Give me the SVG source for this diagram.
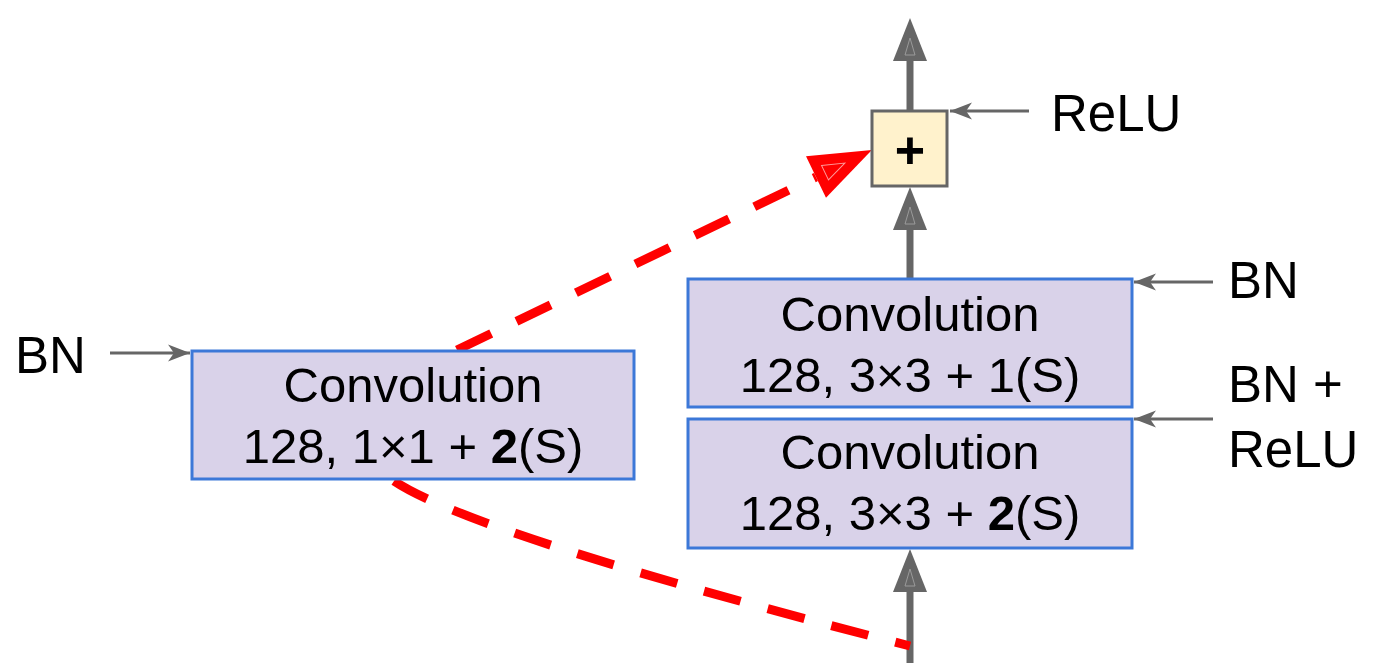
<svg xmlns="http://www.w3.org/2000/svg" width="1383" height="663" viewBox="0 0 1383 663">
  <style>
    .conv { fill: #d9d2e9; stroke: #3c78d8; stroke-width: 3; }
    .add { fill: #fff2cc; stroke: #666666; stroke-width: 3; }
    .t { font-family: "Liberation Sans", Arial, sans-serif; fill: #000000; }
    .ct { font-size: 49px; text-anchor: middle; }
    .lbl { font-size: 51px; }
    .thick { stroke: #666666; stroke-width: 7; fill: none; }
    .thin { stroke: #666666; stroke-width: 3; fill: none; }
    .red { stroke: #ff0000; stroke-width: 9; fill: none; stroke-dasharray: 38 28; }
  </style>
  <defs>
    <marker id="bigArrow" markerUnits="userSpaceOnUse" viewBox="0 -20 46 40" markerWidth="46" markerHeight="40" refX="0" refY="0" orient="auto" overflow="visible">
      <path d="M0,-17 L43,0 L0,17 Z" fill="#666666"/>
      <path d="M6,-5 L23,0 L6,5 Z" fill="none" stroke="#9a9a9a" stroke-width="1"/>
    </marker>
    <marker id="redArrow" markerUnits="userSpaceOnUse" viewBox="0 -25 64 50" markerWidth="64" markerHeight="50" refX="0" refY="0" orient="auto" overflow="visible">
      <path d="M0,-23 L62,0 L0,23 Z" fill="#ff0000"/>
      <path d="M10,-8 L32,0 L10,8 Z" fill="none" stroke="#ff9a9a" stroke-width="1"/>
    </marker>
    <marker id="thinArrow" markerUnits="userSpaceOnUse" viewBox="-24 -10 26 20" markerWidth="26" markerHeight="20" refX="0" refY="0" orient="auto" overflow="visible">
      <path d="M-22,-8.5 L0,0 L-22,8.5 L-16,0 Z" fill="#666666"/>
    </marker>
  </defs>

  <g id="connectors">
    <line class="thick" x1="910" y1="663" x2="910" y2="592" marker-end="url(#bigArrow)"/>
    <line class="thick" x1="910" y1="278" x2="910" y2="230" marker-end="url(#bigArrow)"/>
    <line class="thick" x1="910" y1="111" x2="910" y2="61" marker-end="url(#bigArrow)"/>
    <line class="red" x1="457" y1="350" x2="816" y2="177" marker-end="url(#redArrow)"/>
    <path class="red" d="M394,481 Q475,535 910,646"/>
    <line class="thin" x1="110" y1="353" x2="190" y2="353" marker-end="url(#thinArrow)"/>
    <line class="thin" x1="1213" y1="282" x2="1134" y2="282" marker-end="url(#thinArrow)"/>
    <line class="thin" x1="1213" y1="419" x2="1134" y2="419" marker-end="url(#thinArrow)"/>
    <line class="thin" x1="1029" y1="111" x2="950" y2="111" marker-end="url(#thinArrow)"/>
  </g>

  <g id="conv-shortcut">
    <rect class="conv" x="192" y="351" width="442" height="128"/>
    <text class="t ct" x="413" y="402">Convolution</text>
    <text class="t ct" x="413" y="463">128, 1×1 + <tspan font-weight="bold">2</tspan>(S)</text>
  </g>

  <g id="conv-1">
    <rect class="conv" x="688" y="419" width="444" height="129"/>
    <text class="t ct" x="910" y="469">Convolution</text>
    <text class="t ct" x="910" y="530">128, 3×3 + <tspan font-weight="bold">2</tspan>(S)</text>
  </g>

  <g id="conv-2">
    <rect class="conv" x="688" y="279" width="444" height="128"/>
    <text class="t ct" x="910" y="331">Convolution</text>
    <text class="t ct" x="910" y="392">128, 3×3 + 1(S)</text>
  </g>

  <g id="add">
    <rect class="add" x="872" y="111" width="75" height="75"/>
    <text class="t" x="910" y="168" font-size="52" font-weight="bold" text-anchor="middle">+</text>
  </g>

  <g id="labels">
    <text class="t lbl" x="15" y="373">BN</text>
    <text class="t lbl" x="1228" y="298">BN</text>
    <text class="t lbl" x="1228" y="402">BN +</text>
    <text class="t lbl" x="1228" y="467">ReLU</text>
    <text class="t lbl" x="1051" y="131">ReLU</text>
  </g>
</svg>
